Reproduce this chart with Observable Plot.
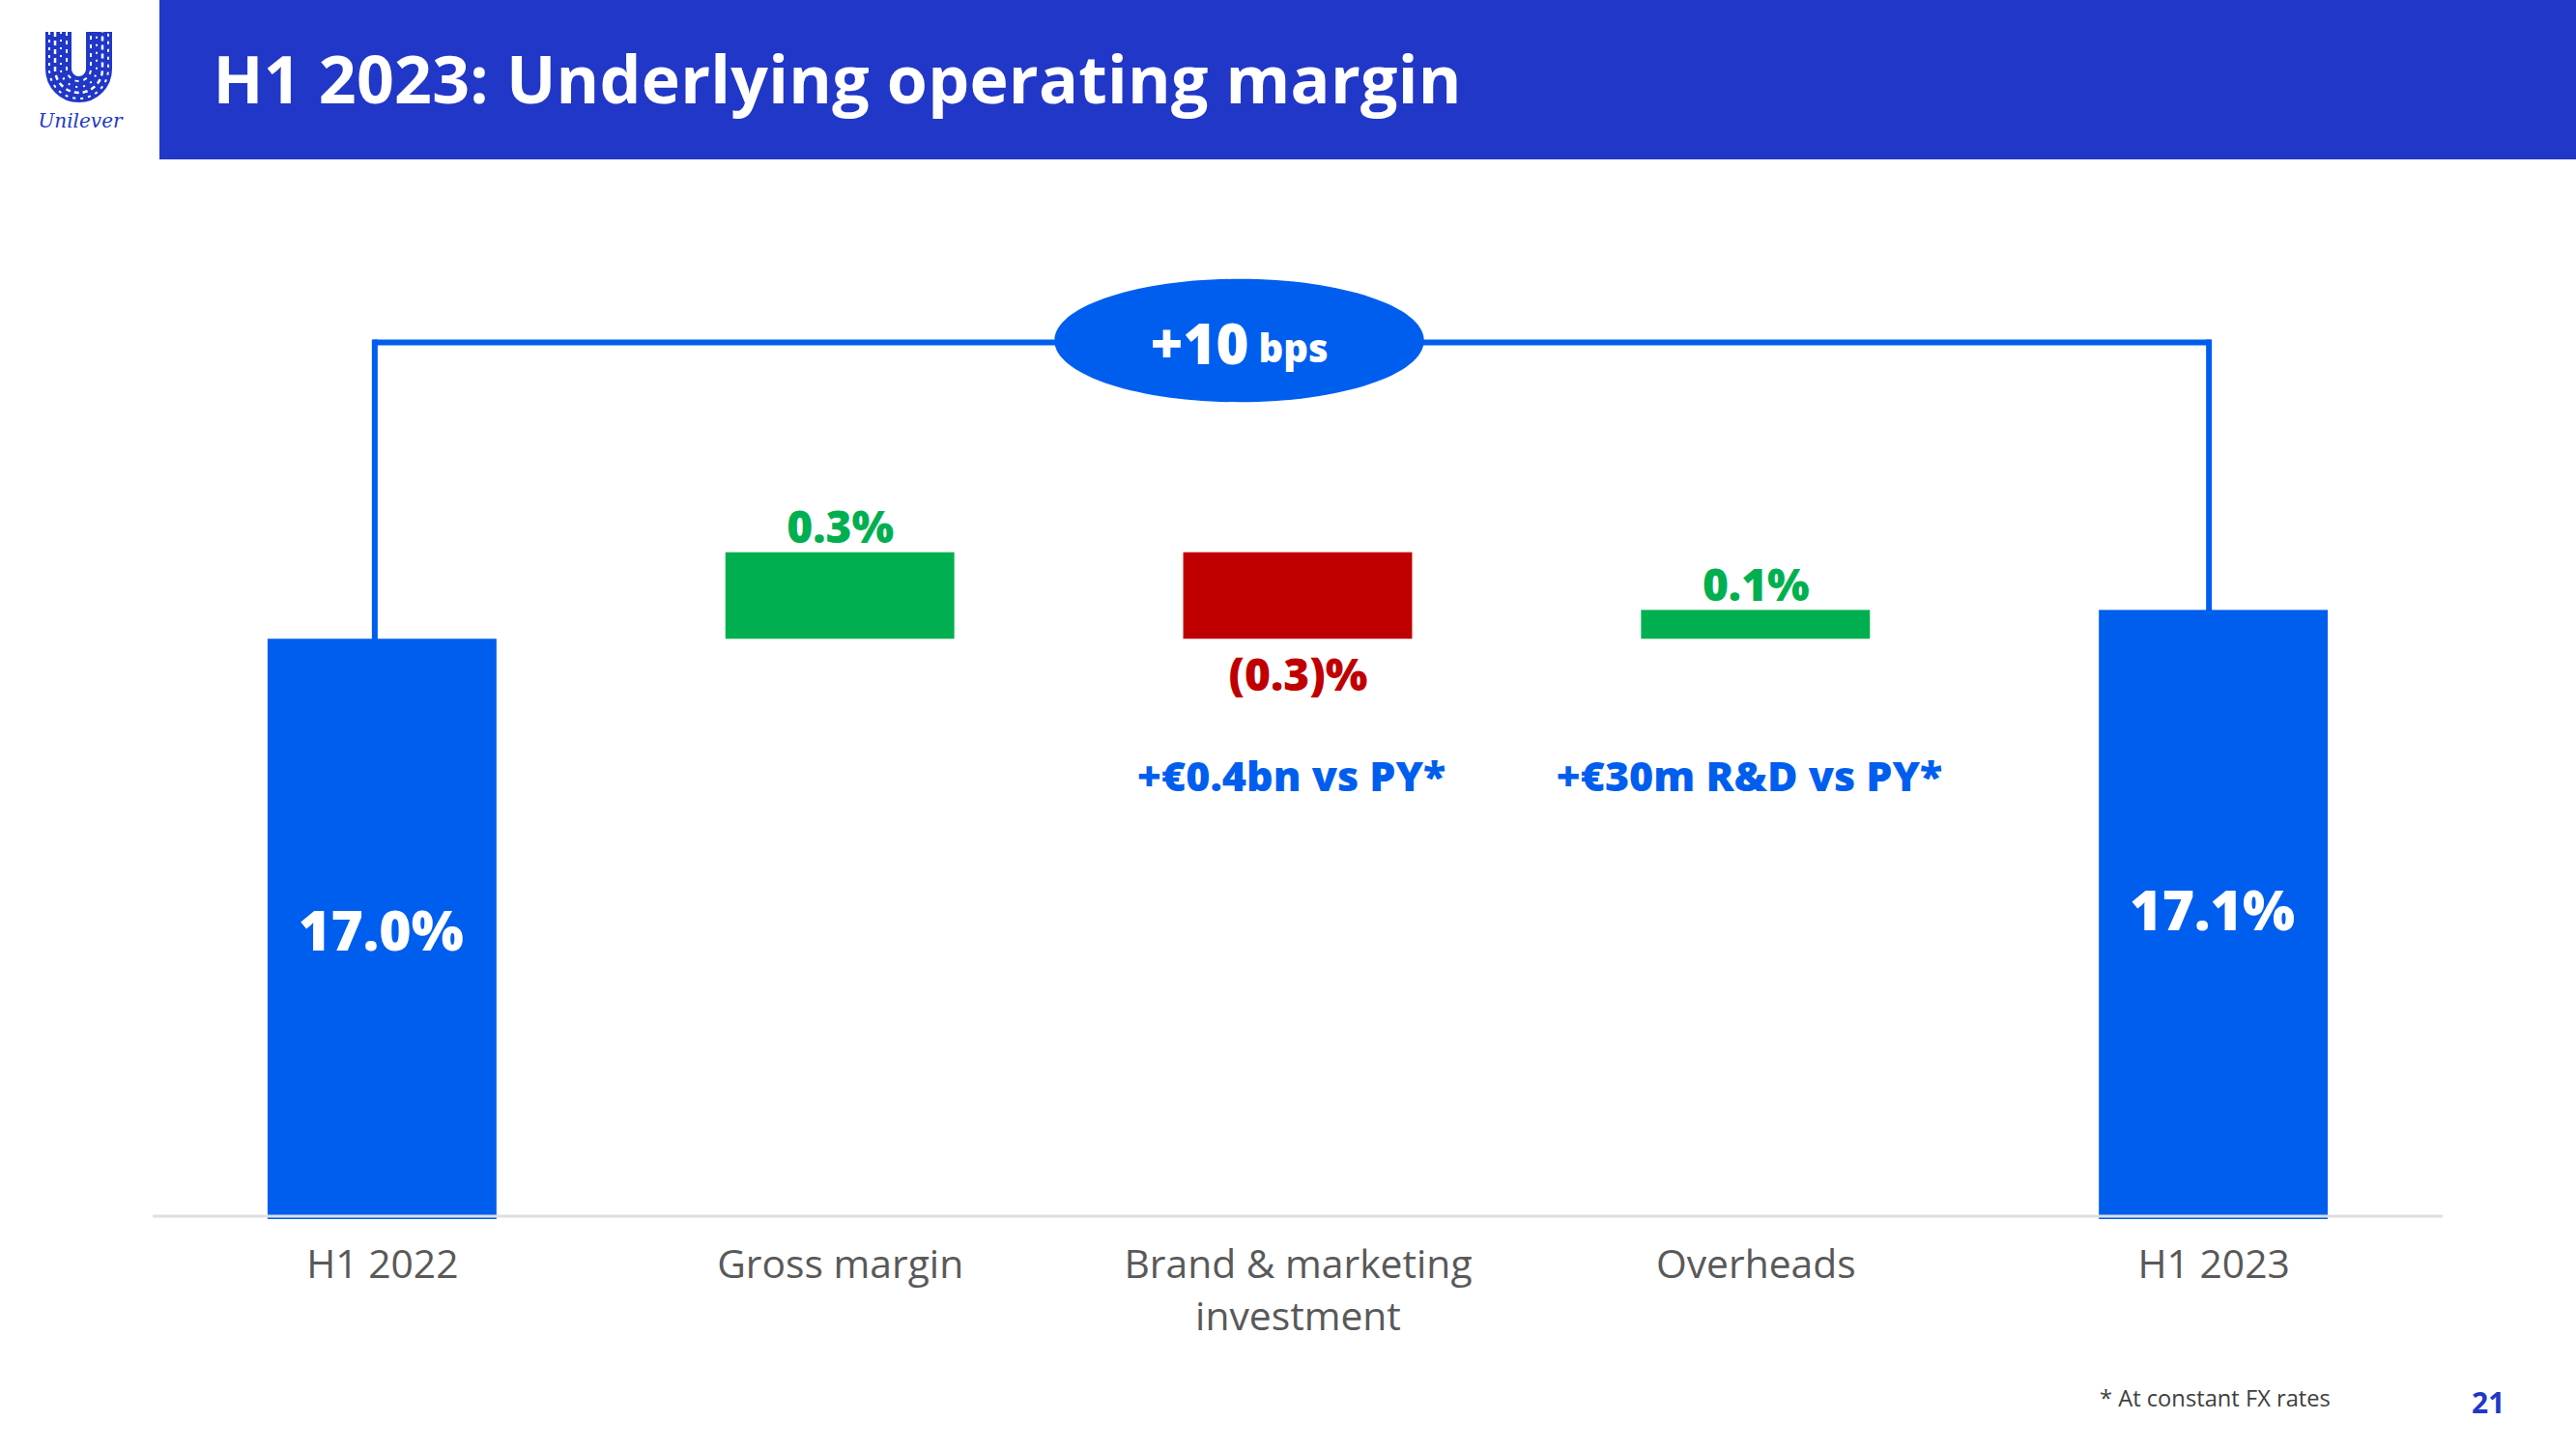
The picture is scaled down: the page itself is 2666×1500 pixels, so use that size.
<!DOCTYPE html>
<html>
<head>
<meta charset="utf-8">
<script src="https://cdn.jsdelivr.net/npm/d3@7"></script>
<script src="https://cdn.jsdelivr.net/npm/@observablehq/plot@0.6"></script>
<style>
html,body{margin:0;padding:0;background:#fff;width:2666px;height:1500px;overflow:hidden;font-family:"Open Sans",sans-serif}
#header{position:absolute;left:165px;top:0;width:2501px;height:165px;background:#2137c7;color:#fff}
#title{position:absolute;left:55.5px;top:36px;font-size:68px;font-weight:700;line-height:90px;white-space:nowrap;letter-spacing:0.25px}
#logo{position:absolute;left:30px;top:28px}
#chart{position:absolute;left:0;top:165px}
#note{position:absolute;left:2173px;top:1433px;font-size:23.7px;line-height:28px;color:#404040;white-space:nowrap}
#page{position:absolute;left:2558px;top:1436px;font-size:30px;line-height:32px;font-weight:700;color:#2137c7}
</style>
</head>
<body>
<div id="logo">
<svg width="106" height="110" viewBox="0 0 106 110">
  <path d="M30.5 5 V43.5 A21 21 0 0 0 72.5 43.5 V5" fill="none" stroke="#2137c7" stroke-width="27"/>
  <g fill="none" stroke="#fff">
    <path d="M21 5 V43.5 A30.5 30.5 0 0 0 82 43.5 V5" stroke-width="2" stroke-dasharray="3 5"/>
    <path d="M27 5 V43.5 A24.5 24.5 0 0 0 76 43.5 V5" stroke-width="2.5" stroke-dasharray="5 4"/>
    <path d="M33 5 V43.5 A18.5 18.5 0 0 0 70 43.5 V5" stroke-width="2" stroke-dasharray="2 6"/>
    <path d="M39 5 V43.5 A12.5 12.5 0 0 0 64 43.5 V5" stroke-width="2" stroke-dasharray="4 5"/>
  </g>
  <text x="53" y="104" text-anchor="middle" font-family="DejaVu Serif" font-style="italic" font-size="20" fill="#2137c7">Unilever</text>
</svg>
</div>
<div id="header"><div id="title">H1 2023: Underlying operating margin</div></div>
<div id="chart"></div>
<div id="note">* At constant FX rates</div>
<div id="page">21</div>
<script>
const categories = ["H1 2022", "Gross margin", "Brand & marketing\ninvestment", "Overheads", "H1 2023"];
const barStart = [15, 17.0, 17.3, 17.0, 15];
const barEnd = [17.0, 17.3, 17.0, 17.1, 17.1];
const barKind = ["total", "up", "down", "up", "total"];
const deltaLabels = ["", "0.3%", "(0.3)%", "0.1%", ""];
const totalLabels = ["17.0%", "", "", "", "17.1%"];
const noteLabels = ["", "", "+€0.4bn vs PY*", "+€30m R&D vs PY*", ""];
const noteLevel = 16.519;
const changeLevel = 18.029;
const changeValue = "+10";
const changeUnit = "bps";

const bars = categories.map((c, i) => ({
  category: c, start: barStart[i], end: barEnd[i], kind: barKind[i],
  delta: deltaLabels[i], total: totalLabels[i], note: noteLabels[i]
}));
const first = categories[0], last = categories[4], middle = categories[2];
const ellipse = {
  draw(ctx, size) {
    const r = Math.sqrt(size / Math.PI), a = r * 1.5, b = r * 0.5, k = 0.5523;
    ctx.moveTo(-a, 0);
    ctx.bezierCurveTo(-a, -k * b, -k * a, -b, 0, -b);
    ctx.bezierCurveTo(k * a, -b, a, -k * b, a, 0);
    ctx.bezierCurveTo(a, k * b, k * a, b, 0, b);
    ctx.bezierCurveTo(-k * a, b, -a, k * b, -a, 0);
    ctx.closePath();
  }
};
const lineStyle = {stroke: "#005eef", strokeWidth: 6, strokeLinecap: "square"};
const totalText = {x: "category", y: d => (d.start + d.end) / 2, text: "total", fill: "#fff", fontSize: 57, fontWeight: 800, dx: -1.5};
const chart = Plot.plot({
  width: 2666, height: 1335,
  marginLeft: 40, marginRight: 20, marginTop: 0, marginBottom: 241.6,
  style: {background: "transparent", fontFamily: "Open Sans"},
  x: {domain: categories, padding: 0.5, round: false, label: null},
  y: {domain: [15, 18.662], axis: null},
  color: {domain: ["total", "up", "down"], range: ["#005eef", "#00b050", "#c00000"]},
  marks: [
    Plot.barY(bars.filter(d => d.kind === "total"), {x: "category", y1: "start", y2: "end", fill: "kind", insetBottom: -3.6}),
    Plot.barY(bars.filter(d => d.kind !== "total"), {x: "category", y1: "start", y2: "end", fill: "kind"}),
    Plot.ruleY([15], {stroke: "#dfdfdf", strokeWidth: 3, insetLeft: 118, insetRight: 118}),
    Plot.axisX({tickSize: 0, tickPadding: 25.5, fontSize: 40.8, lineHeight: 1.33, fill: "#595959", label: null}),
    Plot.link([0], {x1: () => first, x2: () => first, y1: () => barEnd[0], y2: () => changeLevel, dx: -8, ...lineStyle}),
    Plot.link([0], {x1: () => last, x2: () => last, y1: () => barEnd[4], y2: () => changeLevel, dx: -5, ...lineStyle}),
    Plot.link([0], {x1: () => first, x2: () => last, y1: () => changeLevel, y2: () => changeLevel, dx: -6.5, ...lineStyle}),
    Plot.dot([0], {x: () => middle, y: () => changeLevel, symbol: ellipse, r: 127.5, fill: "#005eef", stroke: "none", dx: -61, dy: -2}),
    Plot.text([changeValue], {x: () => middle, y: () => changeLevel, text: d => d, fill: "#fff", fontSize: 58, fontWeight: 800, textAnchor: "end", lineAnchor: "bottom", dx: -51, dy: 22}),
    Plot.text([changeUnit], {x: () => middle, y: () => changeLevel, text: d => d, fill: "#fff", fontSize: 40, fontWeight: 800, textAnchor: "start", lineAnchor: "bottom", dx: -41, dy: 20}),
    Plot.text(bars.filter(d => d.kind === "up"), {x: "category", y: "end", text: "delta", fill: "#00b050", fontSize: 46, fontWeight: 800, dy: -24.5}),
    Plot.text(bars.filter(d => d.kind === "down"), {x: "category", y: "end", text: "delta", fill: "#c00000", fontSize: 46, fontWeight: 800, dy: 38.5}),
    Plot.text(bars.filter(d => d.total === totalLabels[0]), {...totalText, dy: 5}),
    Plot.text(bars.filter(d => d.total === totalLabels[4]), {...totalText, dy: -1}),
    Plot.text(bars.filter(d => d.note), {x: "category", y: () => noteLevel, text: "note", fill: "#005eef", fontSize: 43, fontWeight: 800, dx: -7})
  ]
});
document.getElementById("chart").appendChild(chart);
</script>
</body>
</html>
